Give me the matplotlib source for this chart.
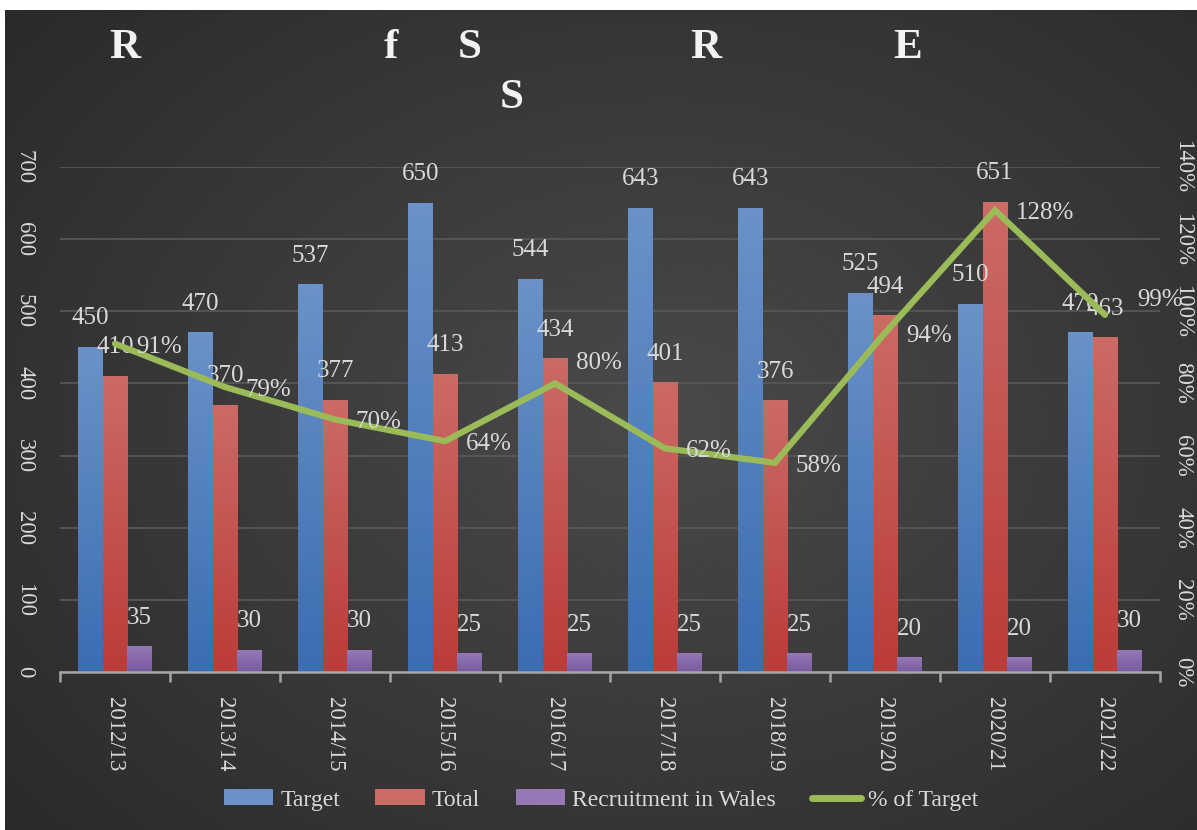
import numpy as np
import matplotlib
matplotlib.use("Agg")
import matplotlib.pyplot as plt
from matplotlib.patches import Patch
from matplotlib.lines import Line2D
from matplotlib.ticker import FuncFormatter
from matplotlib.colors import LinearSegmentedColormap

plt.rcParams['font.family'] = ['Liberation Serif', 'DejaVu Serif']

# data
years = ['2012/13', '2013/14', '2014/15', '2015/16', '2016/17',
         '2017/18', '2018/19', '2019/20', '2020/21', '2021/22']
target = [450, 470, 537, 650, 544, 643, 643, 525, 510, 470]
total = [410, 370, 377, 413, 434, 401, 376, 494, 651, 463]
wales = [35, 30, 30, 25, 25, 25, 25, 20, 20, 30]
pct_target = [0.91, 0.79, 0.70, 0.64, 0.80, 0.62, 0.58, 0.94, 1.28, 0.99]

# title as it shows (only some glyphs came through)
title_bits = [('R', 125, 48), ('f', 391, 48), ('S', 470, 48),
              ('R', 706, 48), ('E', 908, 48), ('S', 512, 98)]

txt = '#d9d9d9'
blue = ('#3c6db2', '#6a92c9')
red = ('#bb3c38', '#cc6a66')
purple = ('#7a5a9e', '#9479b5')
green = '#9bbb59'

W, H = 1197, 830
fig = plt.figure(figsize=(W / 100, H / 100), dpi=100, facecolor='white')

# dark radial background
bg = fig.add_axes([5 / W, 0, 1 - 5 / W, 1 - 10 / H])
bg.set_axis_off()
yy, xx = np.mgrid[0:1:300j, 0:1:400j]
r = np.sqrt(((xx - 0.55) / 0.75) ** 2 + ((yy - 0.5) / 0.8) ** 2)
shade = 0.29 - 0.13 * np.clip(r, 0, 1)
bg.imshow(shade, cmap='gray', vmin=0, vmax=1, aspect='auto',
          extent=[0, 1, 0, 1], interpolation='bilinear')

ax = fig.add_axes([60 / W, 1 - 672 / H, 1100 / W, 505 / H])
ax.patch.set_alpha(0)
ax2 = ax.twinx()

x = np.arange(len(years))
bw = 0.223
grad = np.linspace(0, 1, 100).reshape(-1, 1)


def gradient_bars(xpos, vals, cols):
    cmap = LinearSegmentedColormap.from_list('g', cols)
    bars = ax.bar(xpos, vals, bw, color=cols[0], zorder=2)
    for b in bars:
        b.set_alpha(0)
        x0, y0 = b.get_x(), b.get_y()
        im = ax.imshow(grad, cmap=cmap, aspect='auto', origin='lower',
                       extent=[x0, x0 + b.get_width(), y0, y0 + b.get_height()],
                       zorder=2)
    return bars


b1 = gradient_bars(x - bw, target, blue)
b2 = gradient_bars(x, total, red)
b3 = gradient_bars(x + bw, wales, purple)

for bars, vals in ((b1, target), (b2, total), (b3, wales)):
    for b, v in zip(bars, vals):
        ax.annotate(str(v), (b.get_x() + b.get_width() / 2, v),
                    xytext=(0, 13), textcoords='offset points',
                    ha='center', va='bottom', color=txt, fontsize=18)

ax.set_xlim(-0.5, len(years) - 0.5)
ax.set_ylim(0, 700)
ax.set_yticks(range(0, 701, 100))
ax.yaxis.grid(True, color='#575757', lw=1.3, zorder=0)
ax.set_axisbelow(True)
for s in ('top', 'left', 'right'):
    ax.spines[s].set_visible(False)
    ax2.spines[s].set_visible(False)
ax.spines['bottom'].set_color('#a6a6a6')
ax.spines['bottom'].set_linewidth(1.8)
ax.spines['bottom'].set_zorder(3)
ax2.spines['bottom'].set_visible(False)

ax.set_xticks(np.arange(-0.5, len(years), 1.0))
ax.set_xticklabels([])
ax.tick_params(axis='x', which='major', length=7, width=1.8,
               color='#a6a6a6', direction='out')
ax.set_xticks(x, minor=True)
ax.set_xticklabels(years, minor=True, rotation=-90, color=txt, fontsize=16.5)
ax.tick_params(axis='x', which='minor', length=0, pad=18)
ax.tick_params(axis='y', length=0, pad=18, labelcolor=txt, labelsize=16.5)
for lab in ax.get_yticklabels():
    lab.set_rotation(-90)
    lab.set_va('center')

ax2.plot(x, pct_target, color=green, lw=4.5, solid_capstyle='round',
         solid_joinstyle='miter', zorder=3)
ax2.set_ylim(0, 1.4)
ax2.set_yticks(np.arange(0, 1.41, 0.2))
ax2.yaxis.set_major_formatter(FuncFormatter(lambda v, p: f'{v * 100:.0f}%'))
ax2.tick_params(axis='y', length=0, pad=9, labelcolor=txt, labelsize=16.5)
for lab in ax2.get_yticklabels():
    lab.set_rotation(-90)
    lab.set_va('center')

lift = {4: 17, 9: 13}
shift = {9: 8}
for i, v in enumerate(pct_target):
    ax2.annotate(f'{v * 100:.0f}%', (i, v),
                 xytext=(15 + shift.get(i, 0), -2 + lift.get(i, 0)),
                 textcoords='offset points', ha='left', va='center',
                 color=txt, fontsize=18)

for s, px, py in title_bits:
    fig.text(px / W, 1 - py / H, s, ha='center', va='center',
             color='#f2f2f2', fontsize=31, fontweight='bold')

handles = [Patch(facecolor=blue[1], label='Target'),
           Patch(facecolor=red[1], label='Total'),
           Patch(facecolor=purple[1], label='Recruitment in Wales'),
           Line2D([], [], color=green, lw=5, solid_capstyle='round',
                  label='% of Target')]
fig.legend(handles=handles, loc='center', bbox_to_anchor=(601 / W, 1 - 800 / H),
           ncol=4, frameon=False, fontsize=17, labelcolor=txt,
           handlelength=2.1, handleheight=0.65, handletextpad=0.3,
           columnspacing=1.5)

fig.savefig('out.png', dpi=100, facecolor=fig.get_facecolor())
